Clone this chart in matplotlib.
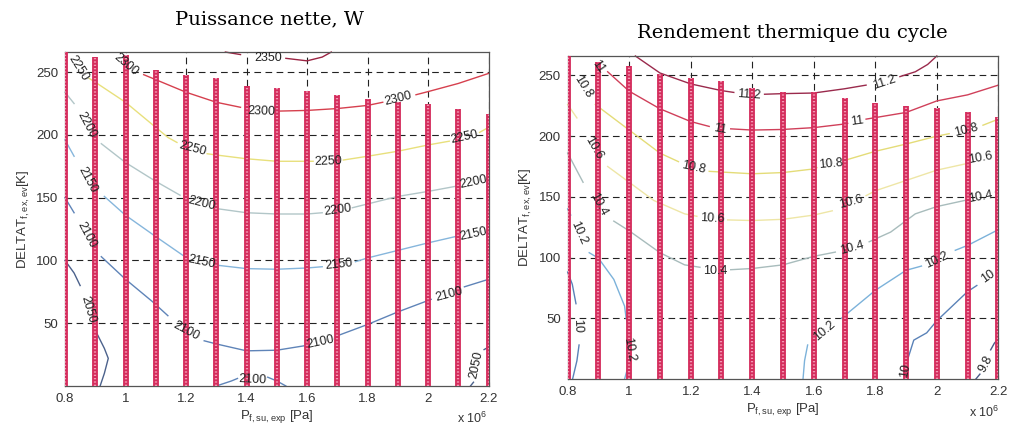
import matplotlib.pyplot as plt

plt.rcParams['font.family'] = ['Liberation Sans', 'DejaVu Sans']

# --- red dotted bars: max DELTAT reached for each pressure
p_bars = [0.8, 0.9, 1.0, 1.1, 1.2, 1.3, 1.4, 1.5, 1.6, 1.7, 1.8, 1.9, 2.0, 2.1, 2.2]
pw_bar_top = [266, 262, 264, 252, 248, 245, 239, 237, 235, 232, 229, 226, 225, 221, 217]
eta_bar_top = [266, 261, 258, 251, 248, 245, 240, 236, 236, 231, 227, 225, 223, 220, 216]

# --- Puissance nette, W : contour lines, split where the labels sit
pw_2350 = [[(1.33, 266), (1.38, 264)],
           [(1.53, 261), (1.6, 259), (1.65, 262), (1.68, 266)]]
pw_2300 = [[(1.06, 248), (1.1, 244), (1.2, 234), (1.3, 226), (1.38, 222)],
           [(1.51, 219), (1.6, 219.5), (1.7, 221), (1.8, 223.5), (1.85, 226)],
           [(1.96, 232), (2.0, 234.5), (2.1, 241), (2.2, 249)]]
pw_2250 = [[(0.88, 245), (0.9, 242), (1.0, 226), (1.08, 210), (1.14, 198), (1.17, 194)],
           [(1.27, 185), (1.3, 184), (1.4, 181), (1.5, 179), (1.6, 179), (1.62, 179)],
           [(1.72, 180), (1.8, 183), (1.9, 187), (2.0, 192), (2.07, 195)],
           [(2.17, 202), (2.2, 206)]]
pw_2200 = [[(0.8, 234), (0.83, 225)],
           [(0.92, 193), (1.0, 178), (1.1, 163), (1.18, 152)],
           [(1.31, 141), (1.4, 138), (1.5, 137), (1.6, 137), (1.65, 138)],
           [(1.75, 142), (1.8, 145), (1.9, 151), (2.0, 155), (2.09, 159)]]
pw_2150 = [[(0.8, 196), (0.83, 183)],
           [(0.93, 151), (1.0, 136), (1.1, 119), (1.19, 104)],
           [(1.31, 96), (1.4, 93.5), (1.5, 93), (1.6, 94), (1.65, 95)],
           [(1.76, 99), (1.8, 102), (1.9, 108), (2.0, 114), (2.09, 119)]]
pw_2100 = [[(0.8, 150), (0.83, 138)],
           [(0.92, 103), (1.0, 85), (1.09, 67), (1.14, 56)],
           [(1.26, 36), (1.3, 33.5), (1.4, 28), (1.5, 28.5), (1.59, 32)],
           [(1.7, 40), (1.8, 49), (1.9, 59), (2.01, 69)],
           [(2.12, 79), (2.2, 85)],
           [(1.3, 0), (1.35, 4), (1.37, 6)],
           [(1.47, 7), (1.5, 4), (1.53, 0)]]
pw_2050 = [[(0.8, 100), (0.83, 90), (0.85, 80)],
           [(0.905, 42), (0.93, 30), (0.943, 22), (0.93, 10), (0.916, 0)],
           [(2.14, 0), (2.15, 3)],
           [(2.185, 29), (2.2, 31)]]

pw_levels = [pw_2350, pw_2300, pw_2250, pw_2200, pw_2150, pw_2100, pw_2050]
pw_colors = ['#9a2342', '#d6404e', '#e8e07c', '#b2c6c8', '#86b6dc', '#5f84b8', '#4c628c']

# label text, x, y, rotation
pw_labels = [('2350', 1.47, 261, 0), ('2300', 1.0, 256, -40), ('2300', 1.45, 219, -2),
             ('2300', 1.9, 229, 14), ('2250', 0.845, 253, -58), ('2250', 1.22, 189, -15),
             ('2250', 1.67, 179, 2), ('2250', 2.12, 198, 12), ('2200', 0.87, 208, -62),
             ('2200', 1.25, 145, -14), ('2200', 1.7, 140, 8), ('2200', 2.15, 162, 12),
             ('2150', 0.875, 164, -62), ('2150', 1.25, 99, -12), ('2150', 1.705, 97, 6),
             ('2150', 2.15, 121, 12), ('2100', 0.87, 120, -62), ('2100', 1.2, 44, -28),
             ('2100', 1.645, 35, 12), ('2100', 2.068, 73, 15), ('2100', 1.42, 5, -3),
             ('2050', 0.875, 61, -74), ('2050', 2.158, 17, 78)]

# --- Rendement thermique du cycle : contour lines
eta_112 = [[(1.02, 266), (1.1, 252), (1.2, 243), (1.3, 237.5), (1.34, 236)],
           [(1.44, 234.5), (1.5, 235), (1.6, 235.5), (1.7, 239), (1.77, 242)],
           [(1.88, 249), (1.93, 253), (1.97, 259), (2.0, 266)]]
eta_11 = [[(0.93, 253), (1.0, 237), (1.1, 222.5), (1.2, 212), (1.26, 208)],
          [(1.33, 206), (1.4, 205), (1.5, 205.5), (1.6, 207), (1.7, 210), (1.71, 210.5)],
          [(1.77, 214), (1.9, 219.5), (2.0, 229), (2.1, 234), (2.2, 242)]]
eta_108 = [[(0.89, 226), (1.0, 205), (1.1, 186), (1.16, 179)],
           [(1.26, 171), (1.4, 169), (1.5, 170), (1.6, 173), (1.61, 174)],
           [(1.7, 180), (1.8, 187.5), (1.9, 193.5), (2.0, 200), (2.04, 202)],
           [(2.15, 209), (2.2, 214)]]
eta_106 = [[(0.8, 226), (0.83, 215)],
           [(0.93, 175), (1.0, 162), (1.08, 147), (1.18, 136), (1.22, 134)],
           [(1.32, 131), (1.4, 130.5), (1.5, 131.5), (1.6, 135), (1.66, 138.5)],
           [(1.77, 151), (1.8, 155), (1.9, 163.5), (2.0, 172), (2.09, 177)],
           [(2.19, 187), (2.2, 189)]]
eta_104 = [[(0.8, 186), (0.85, 162)],
           [(0.95, 130), (1.0, 122), (1.1, 104), (1.18, 94), (1.23, 92)],
           [(1.33, 90), (1.4, 91), (1.5, 94), (1.6, 101), (1.67, 104.5)],
           [(1.78, 113), (1.85, 121), (1.93, 136), (2.0, 142), (2.09, 147)],
           [(2.19, 154), (2.2, 158)]]
eta_102 = [[(0.8, 140), (0.81, 135)],
           [(0.87, 104), (0.9, 99.5), (0.95, 82), (0.985, 60), (0.99, 50), (1.005, 38)],
           [(0.995, 9), (0.985, 0)],
           [(1.565, 0), (1.57, 15), (1.58, 28)],
           [(1.69, 50), (1.8, 73), (1.9, 89.5), (1.95, 93)],
           [(2.06, 106), (2.1, 110), (2.2, 123)]]
eta_10 = [[(0.8, 88), (0.815, 78), (0.827, 62)],
          [(0.837, 28), (0.83, 15), (0.816, 0)],
          [(1.905, 16), (1.925, 32), (1.967, 38), (2.0, 48), (2.05, 60), (2.1, 72), (2.13, 77)],
          [(2.2, 92)]]
eta_98 = [[(2.127, 0), (2.14, 4)],
          [(2.175, 24), (2.187, 29.5), (2.2, 33)]]

eta_levels = [eta_112, eta_11, eta_108, eta_106, eta_104, eta_102, eta_10, eta_98]
eta_colors = ['#9a2a4c', '#d0405a', '#e4dc78', '#eee6a6', '#a8bcbc', '#7cb2da', '#5a82b8', '#4a5a88']

eta_labels = [('11.2', 1.39, 234, -4), ('11.2', 1.83, 244, 18), ('11', 0.9, 257, -55),
              ('11', 1.295, 206, -10), ('11', 1.74, 212, 8), ('10.8', 0.85, 241, -58),
              ('10.8', 1.21, 174, -12), ('10.8', 1.655, 177, 5), ('10.8', 2.095, 205, 14),
              ('10.6', 0.885, 190, -60), ('10.6', 1.27, 132, -3), ('10.6', 1.72, 146, 15),
              ('10.6', 2.143, 182, 10), ('10.4', 0.9, 144, -62), ('10.4', 1.28, 89, 0),
              ('10.4', 1.725, 108, 15), ('10.4', 2.143, 150, 10), ('10.2', 0.835, 120, -66),
              ('10.2', 1.0, 24, -80), ('10.2', 1.635, 40, 40), ('10.2', 2.0, 98, 25),
              ('10', 0.832, 44, -88), ('10', 1.898, 7, 80), ('10', 2.168, 84, 35),
              ('9.8', 2.158, 12, 62)]


def draw_panel(ax, levels, colors, labels, bar_top, ylab):
    ax.set_xlim(0.8, 2.2)
    ax.set_ylim(0, 266)
    ax.set_xticks([0.8, 1.0, 1.2, 1.4, 1.6, 1.8, 2.0, 2.2])
    ax.set_xticklabels(['0.8', '1', '1.2', '1.4', '1.6', '1.8', '2', '2.2'])
    ax.set_yticks([50, 100, 150, 200, 250])
    ax.tick_params(direction='in', length=3, labelsize=9.5, colors='#333333', pad=5)
    ax.grid(True, color='#222222', linestyle=(0, (6, 4)), linewidth=0.8)
    ax.set_axisbelow(True)
    for s in ax.spines.values():
        s.set_color('#555555')
        s.set_linewidth(0.9)

    for segs, col in zip(levels, colors):
        for seg in segs:
            xs = [p[0] for p in seg]
            ys = [p[1] for p in seg]
            ax.plot(xs, ys, color=col, lw=1.0, zorder=2, clip_on=False)

    # thick red dotted bars (measurement/simulation points)
    ax.vlines(p_bars, 0, bar_top, colors='#d42c5c', linewidth=4.2, zorder=4)
    ax.vlines(p_bars, 0, bar_top, colors='#f29ab4', linewidth=1.6,
              linestyles=(0, (0.6, 0.9)), zorder=5)

    for txt, x, y, rot in labels:
        ax.text(x, y, txt, rotation=rot, ha='center', va='center', fontsize=9,
                color='#222222', rotation_mode='anchor', zorder=6)

    ax.set_xlabel(r'P$_{\mathregular{f,su,exp}}$ [Pa]', fontsize=9.5, color='#333333', labelpad=2)
    ax.set_ylabel(ylab, fontsize=9.5, color='#333333', labelpad=3)


fig = plt.figure(figsize=(10.11, 4.32), dpi=100)
ax1 = fig.add_axes([0.0643, 0.1065, 0.419, 0.773])
ax2 = fig.add_axes([0.5615, 0.1227, 0.426, 0.7477])

draw_panel(ax1, pw_levels, pw_colors, pw_labels, pw_bar_top,
           r'DELTAT$_{\mathregular{f,ex,ev}}$[K]')
draw_panel(ax2, eta_levels, eta_colors, eta_labels, eta_bar_top,
           r'DELTAT$_{\mathregular{f,ex,ev}}$[K]')

fig.text(0.267, 0.955, 'Puissance nette, W', ha='center', va='center',
         fontsize=14, family='DejaVu Serif')
fig.text(0.784, 0.923, 'Rendement thermique du cycle', ha='center', va='center',
         fontsize=14, family='DejaVu Serif')
fig.text(0.452, 0.02, r'x 10$^{\mathregular{6}}$', fontsize=9, color='#333333')
fig.text(0.958, 0.035, r'x 10$^{\mathregular{6}}$', fontsize=9, color='#333333')

fig.savefig('out.png', dpi=100)
